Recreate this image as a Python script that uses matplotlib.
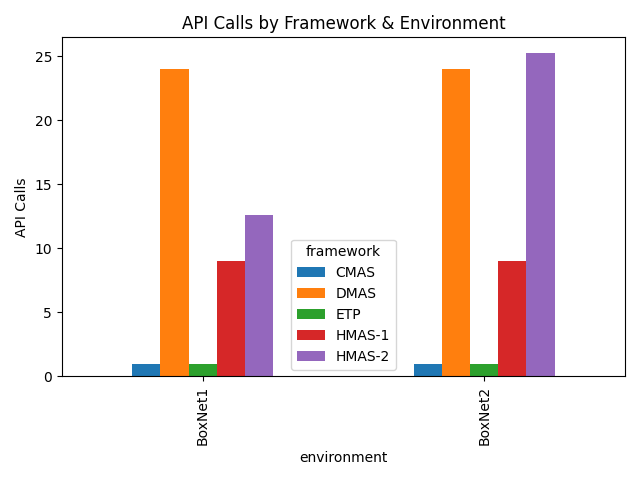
import matplotlib
matplotlib.use("Agg")
import matplotlib.pyplot as plt
import pandas as pd

environments = ["BoxNet1", "BoxNet2"]
frameworks = ["CMAS", "DMAS", "ETP", "HMAS-1", "HMAS-2"]
cmas = [1, 1]
dmas = [24, 24]
etp = [1, 1]
hmas1 = [9, 9]
hmas2 = [12.6, 25.2]

df = pd.DataFrame(
    {"CMAS": cmas, "DMAS": dmas, "ETP": etp, "HMAS-1": hmas1, "HMAS-2": hmas2},
    index=pd.Index(environments, name="environment"),
)
df.columns.name = "framework"

fig, ax = plt.subplots(figsize=(6.4, 4.8), dpi=100)
df.plot(kind="bar", ax=ax)
ax.set_title("API Calls by Framework & Environment")
ax.set_ylabel("API Calls")
ax.legend(title="framework", loc="lower center")
fig.tight_layout()
fig.savefig("out.png", dpi=100)
